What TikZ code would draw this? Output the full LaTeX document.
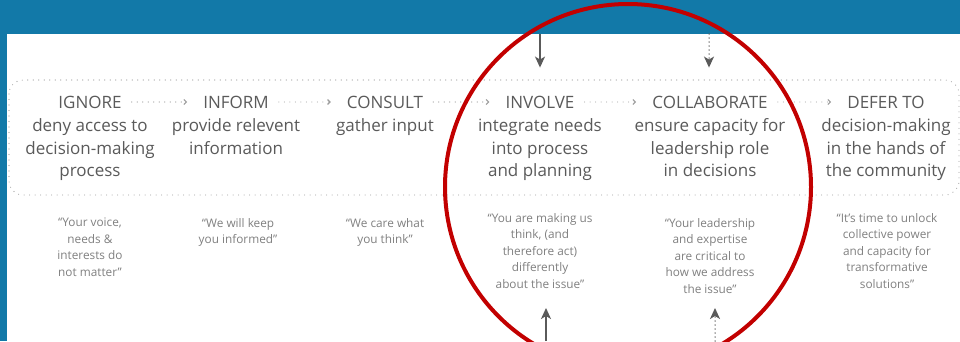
\documentclass[tikz,border=0pt]{standalone}
\usepackage{fontspec}
\setmainfont{Open Sans}
\usetikzlibrary{arrows.meta, positioning}

\definecolor{panelblue}{HTML}{1279A8}
\definecolor{ringred}{HTML}{C20000}
\definecolor{inkgray}{HTML}{5A5A5A}
\definecolor{quotegray}{HTML}{808080}
\definecolor{dotgray}{HTML}{9C9C9C}

\tikzset{
  stage/.style={inner sep=0pt, text=inkgray, font=\fontsize{17}{22.5}\selectfont},
  stagedesc/.style={stage, align=center, below=10pt of #1},
  saying/.style={inner sep=0pt, anchor=north, align=center, text=quotegray,
                 font=\fontsize{11.8}{16.5}\selectfont},
  dotline/.style={dotgray, line width=1.1pt, line cap=round, dash pattern=on 0pt off 5.5pt},
  nextstep/.style={dotline, -{Straight Barb[length=2.5pt,width=5pt,line cap=butt]},
                   shorten <=10pt, shorten >=16pt},
  pointer/.style={inkgray, line width=1.5pt, -{Stealth[length=11pt,width=10pt,inset=3pt]}},
  dotpointer/.style={pointer, line cap=round, dash pattern=on 0pt off 4pt},
}

\begin{document}
\begin{tikzpicture}[x=1pt, y=-1pt]
  \useasboundingbox (0,0) rectangle (960,341);
  \fill[panelblue] (0,0) rectangle (960,341);
  \fill[white] (7,34) rectangle (960,341);
  \draw[dotline, rounded corners=14pt] (9,80) rectangle (959,195);

  \node[stage] (ignore) at (90,102) {IGNORE};
  \node[stage] (inform) at (236,102) {INFORM};
  \node[stage] (consult) at (385,102) {CONSULT};
  \node[stage] (involve) at (540,102) {INVOLVE};
  \node[stage] (collab) at (710,102) {COLLABORATE};
  \node[stage] (defer) at (886,102) {DEFER TO};

  \node[stagedesc=ignore] (ignoredesc) {deny access to\\decision-making\\process};
  \node[stagedesc=inform] (informdesc) {provide relevent\\information};
  \node[stagedesc=consult] (consultdesc) {gather input};
  \node[stagedesc=involve] (involvedesc) {integrate needs\\into process\\and planning};
  \node[stagedesc=collab] (collabdesc) {ensure capacity for\\leadership role\\in decisions};
  \node[stagedesc=defer] (deferdesc) {decision-making\\in the hands of\\the community};

  \draw[nextstep] (ignore) -- (inform);
  \draw[nextstep] (inform) -- (consult);
  \draw[nextstep] (consult) -- (involve);
  \draw[nextstep] (involve) -- (collab);
  \draw[nextstep] (collab) -- (defer);

  \node[saying] (ignoresay) at (90,218) {“Your voice,\\needs \&\\interests do\\not matter”};
  \node[saying] (informsay) at (238,218) {“We will keep\\you informed”};
  \node[saying] (consultsay) at (385,218) {“We care what\\you think”};
  \node[saying] (involvesay) at (540,213) {“You are making us\\think, (and\\therefore act)\\differently\\about the issue”};
  \node[saying] (collabsay) at (710,218) {“Your leadership\\and expertise\\are critical to\\how we address\\the issue”};
  \node[saying] (defersay) at (887,213) {“It’s time to unlock\\collective power\\and capacity for\\transformative\\solutions”};

  \coordinate (involvetop) at (540,34);
  \coordinate (collabtop) at (709,34);
  \coordinate (involvefoot) at (546,341);
  \coordinate (involvetip) at (546,308);
  \coordinate (collabfoot) at (715,341);
  \coordinate (collabtip) at (715,308);
  \draw[pointer, shorten >=28pt] (involvetop) -- (involve.north);
  \draw[dotpointer, shorten >=28pt] (collabtop) -- (collab.north -| collabtop);
  \draw[pointer] (involvefoot) -- (involvetip);
  \draw[dotpointer] (collabfoot) -- (collabtip);

  \draw[ringred, line width=4pt] (628,187) circle[radius=183pt];
\end{tikzpicture}
\end{document}
